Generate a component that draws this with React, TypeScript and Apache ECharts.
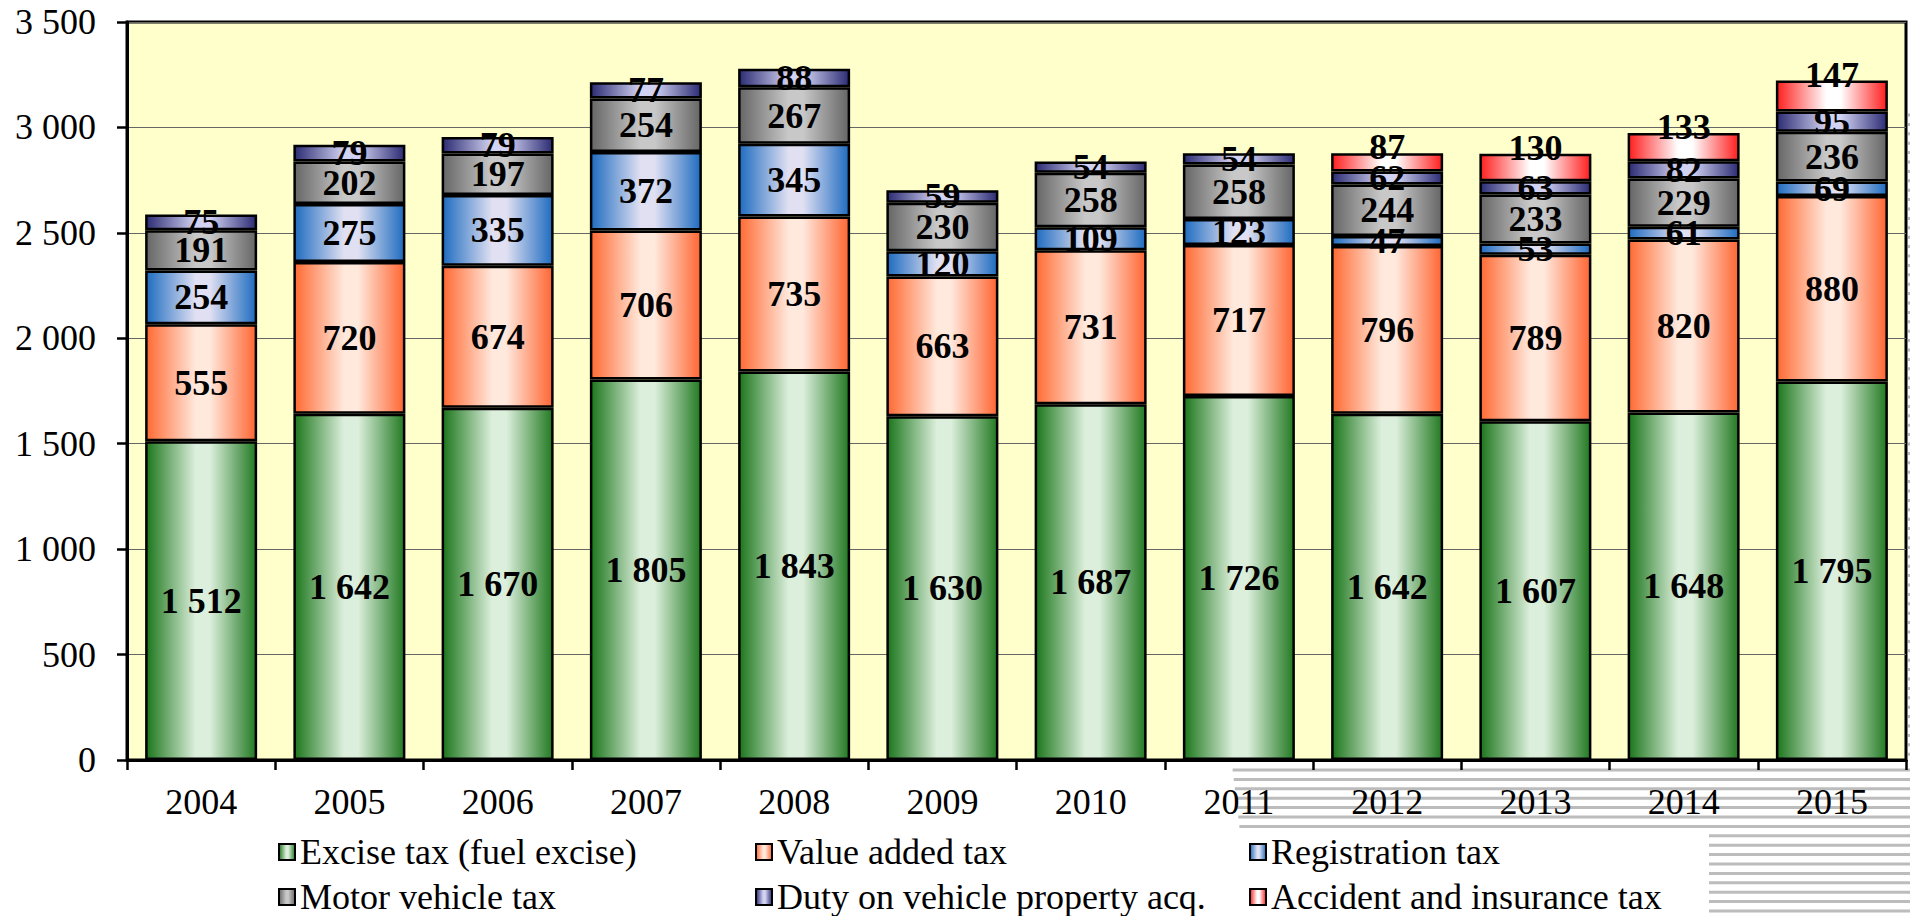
import React, { useEffect, useRef } from "react";
import * as echarts from "echarts";

const years = ["2004", "2005", "2006", "2007", "2008", "2009", "2010", "2011", "2012", "2013", "2014", "2015"];
const exciseTax = [1512, 1642, 1670, 1805, 1843, 1630, 1687, 1726, 1642, 1607, 1648, 1795];
const valueAddedTax = [555, 720, 674, 706, 735, 663, 731, 717, 796, 789, 820, 880];
const registrationTax = [254, 275, 335, 372, 345, 120, 109, 123, 47, 53, 61, 69];
const motorVehicleTax = [191, 202, 197, 254, 267, 230, 258, 258, 244, 233, 229, 236];
const dutyOnAcquisition = [75, 79, 79, 77, 88, 59, 54, 54, 62, 63, 82, 95];
const accidentInsuranceTax = [null, null, null, null, null, null, null, null, 87, 130, 133, 147];

const seriesNames = [
  "Excise tax (fuel excise)",
  "Value added tax",
  "Registration tax",
  "Motor vehicle tax",
  "Duty on vehicle property acq.",
  "Accident and insurance tax",
];

const FONT = "'Liberation Serif', 'Times New Roman', serif";

const fmt = (v: number) => String(v).replace(/\B(?=(\d{3})+(?!\d))/g, " ");

const grad = (edgeL: string, mid: string, edgeR: string) =>
  new echarts.graphic.LinearGradient(0, 0, 1, 0, [
    { offset: 0, color: edgeL },
    { offset: 0.45, color: mid },
    { offset: 0.58, color: mid },
    { offset: 1, color: edgeR },
  ]);

function stripes() {
  const els: any[] = [];
  for (let y = 770; y < 916; y += 9.4) {
    const x0 = y < 830 ? 1232 + (y - 765) * 0.12 : 1709;
    els.push({
      type: "rect",
      shape: { x: x0, y: y - 1.5, width: 1910 - x0, height: 3 },
      style: { fill: "#bcbcbc" },
      silent: true,
    });
  }
  for (let y = 115; y < 760; y += 9.4) {
    els.push({
      type: "rect",
      shape: { x: 1908, y: y - 1.5, width: 2, height: 3 },
      style: { fill: "#bcbcbc" },
      silent: true,
    });
  }
  return els;
}

export default function App() {
  const ref = useRef<HTMLDivElement>(null);
  useEffect(() => {
    const chart = echarts.init(ref.current!, null, { renderer: "svg" });
    const dataSets = [exciseTax, valueAddedTax, registrationTax, motorVehicleTax, dutyOnAcquisition, accidentInsuranceTax];
    const fills = [
      grad("#1c761c", "#dcefdc", "#237a23"),
      grad("#ff6a33", "#ffe8dc", "#ff6633"),
      grad("#1f6cc0", "#e0e0f2", "#1f6cc0"),
      grad("#666666", "#c8c8c8", "#666666"),
      grad("#2c2c74", "#d2d2f2", "#2c2c74"),
      grad("#ff1f1f", "#ffffff", "#ff1f1f"),
    ];
    const series = dataSets.map((d, i) => ({
      name: seriesNames[i],
      type: "bar",
      stack: "total",
      barWidth: 112,
      data: d.map((v) => (v == null ? "-" : v)),
      itemStyle: { color: fills[i], borderColor: "#000", borderWidth: 2.5 },
      label: {
        show: true,
        position: i === 5 ? "top" : "inside",
        distance: i === 5 ? -12 : 5,
        formatter: (p: any) => fmt(p.value),
        fontFamily: FONT,
        fontSize: 36,
        fontWeight: "bold",
        color: "#000",
      },
      emphasis: { disabled: true },
    }));
    const legendCommon = {
      type: "plain",
      orient: "vertical",
      top: 834,
      height: 200,
      padding: 0,
      itemWidth: 16,
      itemHeight: 16,
      itemGap: 9,
      icon: "rect",
      textStyle: { fontFamily: FONT, fontSize: 36, color: "#000", lineHeight: 36 },
      itemStyle: { borderColor: "#000", borderWidth: 2 },
      selectedMode: false,
    };
    chart.setOption({
      animation: false,
      backgroundColor: "#fff",
      grid: {
        left: 127,
        right: 4,
        top: 22,
        bottom: 156,
        show: true,
        backgroundColor: "#ffffcc",
        borderColor: "#000",
        borderWidth: 3,
      },
      legend: [
        { ...legendCommon, left: 278, data: [seriesNames[0], seriesNames[3]] },
        { ...legendCommon, left: 755, data: [seriesNames[1], seriesNames[4]] },
        { ...legendCommon, left: 1249, data: [seriesNames[2], seriesNames[5]] },
      ],
      xAxis: {
        type: "category",
        data: years,
        axisLine: { lineStyle: { color: "#000", width: 3 } },
        axisTick: { show: true, length: 10, lineStyle: { color: "#000", width: 2.5 } },
        axisLabel: { fontFamily: FONT, fontSize: 36, color: "#000", margin: 24 },
      },
      yAxis: {
        type: "value",
        min: 0,
        max: 3500,
        interval: 500,
        axisLine: { show: true, lineStyle: { color: "#000", width: 3 } },
        axisTick: { show: true, length: 10, lineStyle: { color: "#000", width: 2.5 } },
        splitLine: { lineStyle: { color: "#666", width: 1 } },
        axisLabel: {
          fontFamily: FONT,
          fontSize: 36,
          color: "#000",
          margin: 31,
          formatter: (v: number) => fmt(v),
        },
      },
      graphic: stripes(),
      series,
    });
    return () => chart.dispose();
  }, []);
  return <div ref={ref} style={{ position: "fixed", left: 0, top: 0, width: 1910, height: 916 }} />;
}
